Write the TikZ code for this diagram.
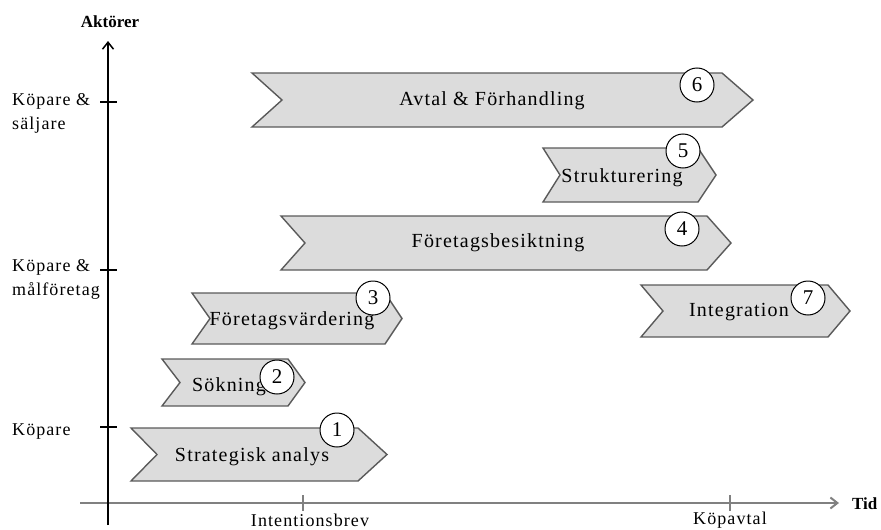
\documentclass[tikz,border=0pt]{standalone}
\usepackage{fontspec}
\setmainfont{Liberation Serif}
\newfontfamily\chevfont[LetterSpace=6]{Liberation Serif}
\usetikzlibrary{arrows.meta}
\definecolor{chevfill}{HTML}{DCDCDC}
\definecolor{chevline}{HTML}{5A5A5A}
\definecolor{haxis}{HTML}{808080}
\tikzset{
  chev/.style={draw=chevline, fill=chevfill, line width=1.4pt, line join=miter},
  chevtext/.style={font=\chevfont\fontsize{20}{23}\selectfont, inner sep=0pt},
  numcirc/.style={circle, draw=black, fill=white, line width=1pt, minimum size=34pt, inner sep=0pt, font=\fontsize{21}{24}\selectfont},
  axlabel/.style={font=\chevfont\fontsize{18}{21}\selectfont, inner sep=0pt},
  axtitle/.style={font=\bfseries\fontsize{17}{20}\selectfont, inner sep=0pt},
  ylabel/.style={font=\chevfont\fontsize{18}{24}\selectfont, inner sep=0pt, align=left, anchor=west}
}
\newcommand{\mychev}[7]{% L T B notchx R tipx name
  \draw[chev] (#1,#2) -- (#5,#2) -- (#6,{(#2+#3)/2}) -- (#5,#3) -- (#1,#3) -- (#4,{(#2+#3)/2}) -- cycle;
}
\begin{document}
\begin{tikzpicture}[x=1pt,y=-1pt]
\useasboundingbox (0,0) rectangle (881,530);
% axes
\coordinate (vbot) at (108,525);
\coordinate (vtop) at (108,41);
\coordinate (hleft) at (80,503);
\coordinate (hright) at (839,503);
\draw[haxis, line width=2pt, -{Straight Barb[length=7pt,width=11pt]}] (hleft) -- (hright);
\draw[black, line width=1.5pt, -{Straight Barb[length=7pt,width=11pt]}] (vbot) -- (vtop);
\node[axtitle] (aktorer) at (110,22) {Aktörer};
\node[axtitle, anchor=west] (tid) at (852,504) {Tid};
% y ticks
\foreach \yy/\nm in {102/ta,270/tb,427/tc}{
  \coordinate (\nm l) at (100,\yy);
  \coordinate (\nm r) at (117,\yy);
  \draw[black, line width=1.2pt] (\nm l) -- (\nm r);
}
\node[ylabel] (ks) at (12,113) {Köpare \&\\säljare};
\node[ylabel] (km) at (12,279) {Köpare \&\\målföretag};
\node[ylabel] (kp) at (12,432) {Köpare};
% x ticks
\coordinate (xa1) at (303,495); \coordinate (xa2) at (303,511);
\coordinate (xb1) at (730,495); \coordinate (xb2) at (730,511);
\draw[haxis, line width=1.5pt] (xa1) -- (xa2);
\draw[haxis, line width=1.5pt] (xb1) -- (xb2);
\node[axlabel] (ib) at (310,520) {Intentionsbrev};
\node[axlabel] (kv) at (730,520) {Köpavtal};
% chevrons
\mychev{131}{428}{481}{157}{358}{387}{c1}
\mychev{162}{359}{406}{180}{288}{305}{c2}
\mychev{192}{293}{344}{210}{385}{402}{c3}
\mychev{281}{216}{270}{305}{707}{731}{c4}
\mychev{543}{148}{202}{560}{698}{716}{c5}
\mychev{252}{73}{127}{282}{722}{753}{c6}
\mychev{641}{285}{337}{663}{828}{850}{c7}
% texts
\node[chevtext] (t1) at (252,457) {Strategisk analys};
\node[chevtext] (t2) at (229,387) {Sökning};
\node[chevtext] (t3) at (292,321) {Företagsvärdering};
\node[chevtext] (t4) at (498,243) {Företagsbesiktning};
\node[chevtext] (t5) at (622,178) {Strukturering};
\node[chevtext] (t6) at (492,101) {Avtal \& Förhandling};
\node[chevtext] (t7) at (739,312) {Integration};
% number circles
\node[numcirc] (n1) at (337,430) {1};
\node[numcirc] (n2) at (277,377) {2};
\node[numcirc] (n3) at (373,298) {3};
\node[numcirc] (n4) at (682,229) {4};
\node[numcirc] (n5) at (683,151) {5};
\node[numcirc] (n6) at (697,85) {6};
\node[numcirc] (n7) at (808,298) {7};
\end{tikzpicture}
\end{document}
